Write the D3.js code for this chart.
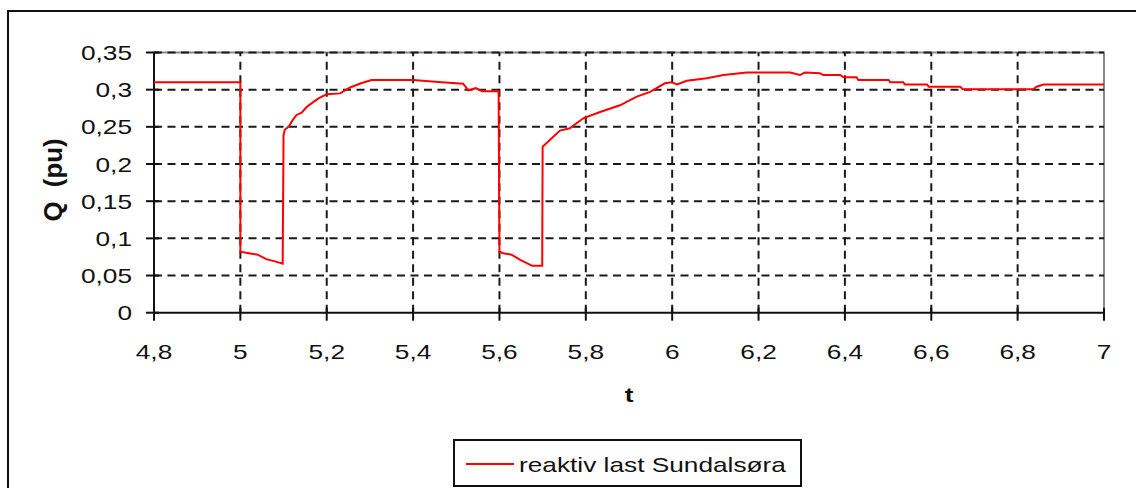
<!DOCTYPE html>
<html>
<head>
<meta charset="utf-8">
<script src="https://cdn.jsdelivr.net/npm/d3@7"></script>
<style>
  html, body { margin: 0; padding: 0; background: #fff; }
  svg { display: block; font-family: "Liberation Sans", Arial, sans-serif; }
</style>
</head>
<body>
<svg id="chart" width="1136" height="488"></svg>
<script>
// Reactive load at Sundalsøra, Q (pu) over time t
const tValues = [
  4.8, 5.0, 5.0, 5.02, 5.04, 5.06, 5.08, 5.098,
  5.1, 5.103, 5.113, 5.121, 5.130, 5.142, 5.154, 5.167, 5.180, 5.200,
  5.231, 5.254, 5.281, 5.304, 5.400, 5.466, 5.516, 5.528, 5.545, 5.56, 5.598,
  5.6, 5.609, 5.628, 5.648, 5.676, 5.699,
  5.7, 5.740, 5.763, 5.794, 5.833, 5.879, 5.918, 5.949, 5.983, 5.999, 6.011,
  6.034, 6.080, 6.119, 6.173, 6.273, 6.296, 6.307, 6.342, 6.350, 6.389,
  6.397, 6.427, 6.431, 6.501, 6.505, 6.535, 6.539, 6.590, 6.594, 6.667,
  6.673, 6.836, 6.844, 6.860, 7.0
];
const qValues = [
  0.310, 0.310, 0.082, 0.080, 0.078, 0.072, 0.069, 0.066,
  0.239, 0.246, 0.251, 0.259, 0.266, 0.269, 0.277, 0.2825, 0.288, 0.294,
  0.295, 0.303, 0.309, 0.313, 0.313, 0.310, 0.308, 0.299, 0.302, 0.298, 0.298,
  0.082, 0.080, 0.078, 0.071, 0.063, 0.063,
  0.2233, 0.245, 0.248, 0.2615, 0.270, 0.279, 0.2906, 0.297, 0.3086, 0.310, 0.307,
  0.312, 0.3153, 0.3197, 0.323, 0.323, 0.3197, 0.323, 0.322, 0.3197, 0.3197,
  0.3166, 0.3166, 0.313, 0.313, 0.310, 0.310, 0.307, 0.307, 0.304, 0.304,
  0.3005, 0.3005, 0.304, 0.307, 0.307
];

const xTicks = [4.8, 5.0, 5.2, 5.4, 5.6, 5.8, 6.0, 6.2, 6.4, 6.6, 6.8, 7.0];
const xTickLabels = ["4,8", "5", "5,2", "5,4", "5,6", "5,8", "6", "6,2", "6,4", "6,6", "6,8", "7"];
const yTicks = [0, 0.05, 0.1, 0.15, 0.2, 0.25, 0.3, 0.35];
const yTickLabels = ["0", "0,05", "0,1", "0,15", "0,2", "0,25", "0,3", "0,35"];

const seriesName = "reaktiv last Sundalsøra";
const xTitle = "t";
const yTitle = "Q  (pu)";

const data = tValues.map((t, i) => ({ t, q: qValues[i] }));

const svg = d3.select("#chart");
const plot = { left: 154, right: 1104, top: 52.5, bottom: 312.7 };
const stretch = 1.25;   // wide lettering of the chart text
const fontSize = 21;

const x = d3.scaleLinear().domain([4.8, 7.0]).range([plot.left, plot.right]);
const y = d3.scaleLinear().domain([0, 0.35]).range([plot.bottom, plot.top]);

svg.append("rect").attr("width", 1136).attr("height", 488).attr("fill", "#fff");

// outer chart frame (runs past the right and bottom edges)
svg.append("path")
  .attr("d", "M8,500 L8,11 L1150,11")
  .attr("fill", "none").attr("stroke", "#111").attr("stroke-width", 2);

// plot area frame (top and right)
svg.append("path")
  .attr("d", `M${plot.left},${plot.top} L${plot.right},${plot.top} L${plot.right},${plot.bottom}`)
  .attr("fill", "none").attr("stroke", "#8a8a8a").attr("stroke-width", 2);

// dashed grid
const grid = svg.append("g").attr("stroke", "#1a1a1a").attr("stroke-width", 2)
  .attr("stroke-dasharray", "8,5.5");
grid.selectAll("line.h").data(yTicks.filter(v => v > 0)).join("line")
  .attr("class", "h")
  .attr("x1", plot.left).attr("x2", plot.right)
  .attr("y1", d => y(d)).attr("y2", d => y(d));
grid.selectAll("line.v").data(xTicks.filter(v => v > 4.8 && v < 7.0)).join("line")
  .attr("class", "v")
  .attr("y1", plot.bottom).attr("y2", plot.top)
  .attr("x1", d => x(d)).attr("x2", d => x(d));

// axes lines
svg.append("line").attr("x1", plot.left).attr("x2", plot.left)
  .attr("y1", plot.top).attr("y2", plot.bottom)
  .attr("stroke", "#111").attr("stroke-width", 2);
svg.append("line").attr("x1", plot.left).attr("x2", plot.right)
  .attr("y1", plot.bottom).attr("y2", plot.bottom)
  .attr("stroke", "#111").attr("stroke-width", 2);

// crossing ticks
svg.append("g").selectAll("line").data(yTicks).join("line")
  .attr("x1", plot.left - 8).attr("x2", plot.left + 5)
  .attr("y1", d => y(d)).attr("y2", d => y(d))
  .attr("stroke", "#111").attr("stroke-width", 2);
svg.append("g").selectAll("line").data(xTicks).join("line")
  .attr("y1", plot.bottom - 5).attr("y2", plot.bottom + 8)
  .attr("x1", d => x(d)).attr("x2", d => x(d))
  .attr("stroke", "#111").attr("stroke-width", 2);

// widened text helper
function label(g, px, py, str, anchor, opts = {}) {
  let tf = `translate(${px},${py}) scale(${stretch},1)`;
  if (opts.rotate) tf += ` rotate(${opts.rotate}) scale(${opts.along || 1},1)`;
  const t = g.append("g")
    .attr("transform", tf)
    .append("text")
    .attr("text-anchor", anchor)
    .attr("font-size", opts.size || fontSize)
    .attr("font-weight", opts.bold ? "bold" : "normal")
    .attr("fill", "#111")
    .style("white-space", "pre")
    .text(str);
  return t;
}

const labels = svg.append("g");
yTicks.forEach((v, i) => label(labels, 132, y(v) + 7.5, yTickLabels[i], "end"));
xTicks.forEach((v, i) => label(labels, x(v), 358.5, xTickLabels[i], "middle"));

label(labels, (plot.left + plot.right) / 2, 402, xTitle, "middle", { bold: true });
label(labels, 62, 180, yTitle, "middle", { bold: true, rotate: -90, along: 1.23 });

// series line
const line = d3.line().x(d => x(d.t)).y(d => y(d.q));
svg.append("path").datum(data)
  .attr("d", line)
  .attr("fill", "none").attr("stroke", "#ff0000").attr("stroke-width", 2)
  .attr("stroke-linejoin", "miter");

// legend
const legend = svg.append("g");
legend.append("rect").attr("x", 454).attr("y", 440).attr("width", 347).attr("height", 46)
  .attr("fill", "#fff").attr("stroke", "#111").attr("stroke-width", 2);
legend.append("line").attr("x1", 466).attr("x2", 514).attr("y1", 464).attr("y2", 464)
  .attr("stroke", "#ff0000").attr("stroke-width", 2);
label(legend, 519, 471.5, seriesName, "start");
</script>
</body>
</html>
